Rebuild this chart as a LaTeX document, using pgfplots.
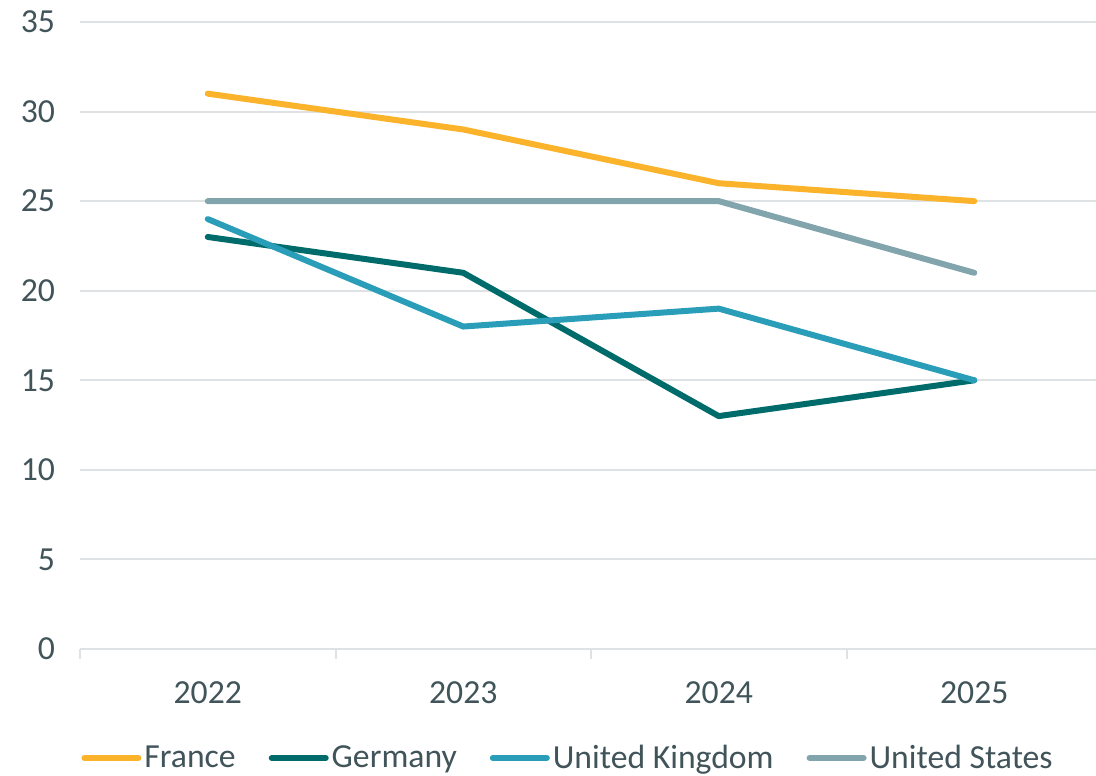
\documentclass[border=0pt]{standalone}
\usepackage{fontspec}
\setmainfont{Carlito}
\usepackage{pgfplots}
\pgfplotsset{compat=1.18}
\definecolor{txt}{RGB}{64,84,89}
\definecolor{grd}{RGB}{222,226,228}
\definecolor{cFR}{RGB}{251,179,43}
\definecolor{cDE}{RGB}{0,107,107}
\definecolor{cUK}{RGB}{42,157,184}
\definecolor{cUS}{RGB}{130,164,172}
\begin{document}
\begin{tikzpicture}
\begin{axis}[
  scale only axis,
  width=511bp, height=313.5bp,
  xmin=-0.5, xmax=3.5,
  ymin=0, ymax=35,
  xtick={0,1,2,3},
  xticklabels={2022,2023,2024,2025},
  minor xtick={-0.5,0.5,1.5,2.5,3.5},
  ytick={0,5,...,35},
  major tick length=0pt,
  minor tick length=5bp,
  tick align=outside,
  xtick pos=bottom,
  ytick pos=left,
  axis line style={draw=none},
  ymajorgrids,
  grid style={grd, line width=1bp},
  minor tick style={grd, line width=1bp},
  every tick label/.append style={font=\fontsize{16.9}{20}\selectfont, text=txt},
  /pgf/number format/assume math mode=true,
  yticklabel style={xshift=-9bp},
  xticklabel style={yshift=-13bp},
  legend columns=4,
  legend style={draw=none, fill=none, at={(0.478,0)}, anchor=center, yshift=-54.5bp,
    font=\fontsize{16.9}{20}\selectfont, text=txt,
    nodes={inner xsep=1.5bp},
    /tikz/every even column/.append style={column sep=15bp},
    inner sep=0pt},
  legend image code/.code={\draw[#1, line width=3bp, line cap=round] (0bp,0bp) -- (27bp,0bp);},
  every axis plot/.append style={line width=3bp, line cap=round, line join=round},
  clip=false,
]
\addplot[cFR] coordinates {(0,31) (1,29) (2,26) (3,25)};
\addlegendentry{France}
\addplot[cDE] coordinates {(0,23) (1,21) (2,13) (3,15)};
\addlegendentry{Germany}
\addplot[cUK] coordinates {(0,24) (1,18) (2,19) (3,15)};
\addlegendentry{United Kingdom}
\addplot[cUS] coordinates {(0,25) (1,25) (2,25) (3,21)};
\addlegendentry{United States}
\end{axis}
\pgfresetboundingbox
\path[use as bounding box] (-40bp,-63.5bp) rectangle (508bp,324.5bp);
\end{tikzpicture}
\end{document}
